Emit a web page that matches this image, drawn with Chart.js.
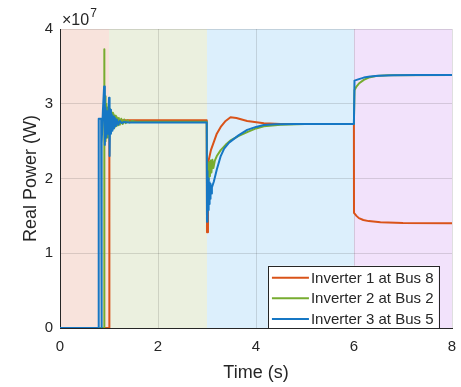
<!DOCTYPE html>
<html>
<head>
<meta charset="utf-8">
<script src="https://cdn.jsdelivr.net/npm/chart.js@4/dist/chart.umd.min.js"></script>
<style>
  html, body { margin: 0; padding: 0; background: #ffffff; }
  #wrap { width: 461px; height: 387px; }
</style>
</head>
<body>
<div id="wrap"><canvas id="c" width="461" height="387"></canvas></div>
<script>
// ---- Data (power in units of 1e7 W, time in s) ----
const seriesLabels = ["Inverter 1 at Bus 8", "Inverter 2 at Bus 2", "Inverter 3 at Bus 5"];

const inv1Time  = [0, 1.0, 1.0, 1.015, 1.03, 1.05, 1.08, 1.12, 1.2,
                   2.995, 3.0, 3.02, 3.08, 3.14, 3.2, 3.28, 3.38, 3.48, 3.6,
                   3.82, 4.16, 4.5, 5.0, 5.998, 6.0, 6.05, 6.1, 6.19, 6.3,
                   6.54, 7.0, 8.0];
const inv1Power = [0, 0, 2.78, 2.72, 2.82, 2.75, 2.79, 2.77, 2.78,
                   2.78, 1.28, 2.20, 2.38, 2.49, 2.60, 2.69, 2.77, 2.82, 2.81,
                   2.77, 2.74, 2.73, 2.73, 2.73, 1.54, 1.50, 1.47, 1.445, 1.43,
                   1.414, 1.405, 1.40];

const inv2Time  = [0, 0.90, 0.90, 0.91, 0.92, 0.93, 0.945, 0.96, 0.975, 0.99,
                   1.005, 1.02, 1.035, 1.05, 1.065, 1.08, 1.095, 1.11, 1.125, 1.14,
                   1.16, 1.18, 1.2, 1.22, 1.25, 1.28, 1.31, 1.34, 1.38, 1.42,
                   1.47, 1.55,
                   2.995, 3.0, 3.008, 3.016, 3.025, 3.035, 3.047, 3.06, 3.075, 3.09,
                   3.11, 3.13, 3.16, 3.2, 3.28, 3.38, 3.48, 3.65, 3.82, 4.0,
                   4.16, 4.5, 5.0, 5.998,
                   6.01, 6.05, 6.1, 6.2, 6.3, 6.45, 6.7, 8.0];
const inv2Power = [0, 0, 3.73, 2.40, 3.10, 2.50, 3.00, 2.55, 2.95, 2.60,
                   2.93, 2.62, 2.90, 2.65, 2.88, 2.67, 2.86, 2.68, 2.84, 2.70,
                   2.82, 2.71, 2.81, 2.72, 2.80, 2.73, 2.79, 2.74, 2.78, 2.75,
                   2.77, 2.76,
                   2.76, 1.90, 2.20, 1.93, 2.20, 1.98, 2.22, 2.03, 2.24, 2.08,
                   2.25, 2.14, 2.24, 2.30, 2.38, 2.45, 2.51, 2.57, 2.62, 2.67,
                   2.70, 2.72, 2.73, 2.73,
                   3.18, 3.23, 3.27, 3.32, 3.35, 3.37, 3.38, 3.385];

const inv3Time  = [0, 0.79, 0.79, 0.84, 0.84, 0.855, 0.855, 0.875, 0.90, 0.915,
                   0.93, 0.945, 0.96, 0.975, 0.99, 1.0, 1.012, 1.025, 1.04, 1.055,
                   1.07, 1.085, 1.10, 1.12, 1.14, 1.16, 1.19, 1.22, 1.26, 1.3,
                   1.4,
                   2.995, 3.0, 3.003, 3.008, 3.013, 3.018, 3.024, 3.03, 3.037, 3.045,
                   3.053, 3.062, 3.072, 3.085, 3.1, 3.14, 3.2, 3.28, 3.35, 3.45,
                   3.55, 3.65, 3.82, 4.0, 4.16, 4.4, 4.8, 5.998,
                   6.01, 6.1, 6.2, 6.33, 6.5, 6.8, 7.3, 8.0];
const inv3Power = [0, 0, 2.80, 2.80, 0, 0, 2.47, 2.90, 3.23, 2.45,
                   2.95, 2.55, 2.90, 2.60, 2.88, 3.08, 2.30, 2.92, 2.60, 2.86,
                   2.64, 2.83, 2.67, 2.81, 2.70, 2.79, 2.72, 2.77, 2.74, 2.755,
                   2.75,
                   2.75, 1.42, 2.10, 1.45, 2.05, 1.50, 2.00, 1.58, 1.97, 1.66,
                   1.95, 1.73, 1.93, 1.80, 1.88, 1.96, 2.12, 2.30, 2.40, 2.48,
                   2.53, 2.58, 2.65, 2.69, 2.715, 2.725, 2.73, 2.73,
                   3.31, 3.33, 3.35, 3.365, 3.375, 3.38, 3.385, 3.385];

// shaded time intervals
const shadeStart = [0, 1, 3, 6];
const shadeEnd   = [1, 3, 6, 8];
const shadeColor = ["#f8e3dc", "#ebf0df", "#dceffc", "#f2e2fb"];

const xTicks = [0, 2, 4, 6, 8];
const yTicks = [0, 1, 2, 3, 4];

const colors = ["#d95319", "#77ac30", "#1677c4"];
const FONT = "'Liberation Sans', Arial, Helvetica, sans-serif";
const TXT = "#262626";

function pts(t, p) { return t.map((x, i) => ({ x: x, y: p[i] })); }

const shadePlugin = {
  id: 'shade',
  beforeDraw(chart) {
    const { ctx, chartArea: a, scales: { x } } = chart;
    ctx.save();
    for (let i = 0; i < shadeStart.length; i++) {
      const x0 = x.getPixelForValue(shadeStart[i]);
      const x1 = x.getPixelForValue(shadeEnd[i]);
      ctx.fillStyle = shadeColor[i];
      ctx.fillRect(x0, a.top, x1 - x0, a.bottom - a.top);
    }
    ctx.restore();
  }
};

const extrasPlugin = {
  id: 'extras',
  afterDraw(chart) {
    const { ctx, chartArea: a } = chart;
    ctx.save();
    // exponent label
    ctx.fillStyle = TXT;
    ctx.textBaseline = 'alphabetic';
    ctx.textAlign = 'left';
    ctx.font = "16px " + FONT;
    ctx.fillText("\u00d710", a.left + 2, 25);
    const w = ctx.measureText("\u00d710").width;
    ctx.font = "12px " + FONT;
    ctx.fillText("7", a.left + 2 + w + 1, 17);

    // legend
    ctx.font = "15px " + FONT;
    const ds = chart.data.datasets;
    let maxW = 0;
    ds.forEach(d => { maxW = Math.max(maxW, ctx.measureText(d.label).width); });
    const lineLen = 37, padL = 4, gap = 2, padR = 5, rowH = 20.6;
    const boxW = padL + lineLen + gap + maxW + padR;
    const boxH = rowH * ds.length + 0.5;
    const right = a.right - 13.5, bottom = a.bottom;
    const left = right - boxW, top = bottom - boxH;
    ctx.fillStyle = "#ffffff";
    ctx.fillRect(left, top, boxW, boxH);
    ctx.strokeStyle = TXT;
    ctx.lineWidth = 1;
    ctx.strokeRect(Math.round(left) + 0.5, Math.round(top) + 0.5, Math.round(boxW), Math.round(boxH));
    ctx.textBaseline = 'middle';
    ds.forEach((d, i) => {
      const y = top + 12 + i * rowH;
      ctx.strokeStyle = d.borderColor;
      ctx.lineWidth = 2;
      ctx.beginPath();
      ctx.moveTo(left + padL, y);
      ctx.lineTo(left + padL + lineLen, y);
      ctx.stroke();
      ctx.fillStyle = TXT;
      ctx.fillText(d.label, left + padL + lineLen + gap, y + 1);
    });
    ctx.restore();
  }
};

const datasets = [
  { label: seriesLabels[0], data: pts(inv1Time, inv1Power), borderColor: colors[0], order: 3 },
  { label: seriesLabels[1], data: pts(inv2Time, inv2Power), borderColor: colors[1], order: 2 },
  { label: seriesLabels[2], data: pts(inv3Time, inv3Power), borderColor: colors[2], order: 1 }
].map(d => Object.assign(d, { borderWidth: 2, pointRadius: 0, tension: 0, fill: false, borderJoinStyle: 'round' }));

new Chart(document.getElementById('c'), {
  type: 'line',
  data: { datasets: datasets },
  options: {
    responsive: false,
    animation: false,
    devicePixelRatio: 1,
    layout: { padding: { top: 29, right: 9, left: 0, bottom: 0 } },
    plugins: { legend: { display: false }, tooltip: { enabled: false } },
    scales: {
      x: {
        type: 'linear', min: 0, max: 8,
        afterBuildTicks(s) { s.ticks = xTicks.map(v => ({ value: v })); },
        afterFit(s) { s.height = 59; s.paddingLeft = 0; s.paddingRight = 0; },
        grid: { color: 'rgba(38,38,38,0.15)', drawTicks: false },
        border: { color: TXT, width: 1 },
        ticks: { color: TXT, font: { family: FONT, size: 15 }, padding: 10, maxRotation: 0 },
        title: { display: true, text: 'Time (s)', color: TXT, font: { family: FONT, size: 18 }, padding: { top: 0, bottom: 3 } }
      },
      y: {
        type: 'linear', min: 0, max: 4,
        afterBuildTicks(s) { s.ticks = yTicks.map(v => ({ value: v })); },
        afterFit(s) { s.width = 60; s.paddingTop = 0; s.paddingBottom = 0; },
        grid: { color: 'rgba(38,38,38,0.15)', drawTicks: false },
        border: { color: TXT, width: 1 },
        ticks: { color: TXT, font: { family: FONT, size: 15 }, padding: 7 },
        title: { display: true, text: 'Real Power (W)', color: TXT, font: { family: FONT, size: 18 }, padding: { top: 20, bottom: 0 } }
      }
    }
  },
  plugins: [shadePlugin, extrasPlugin]
});
</script>
</body>
</html>
